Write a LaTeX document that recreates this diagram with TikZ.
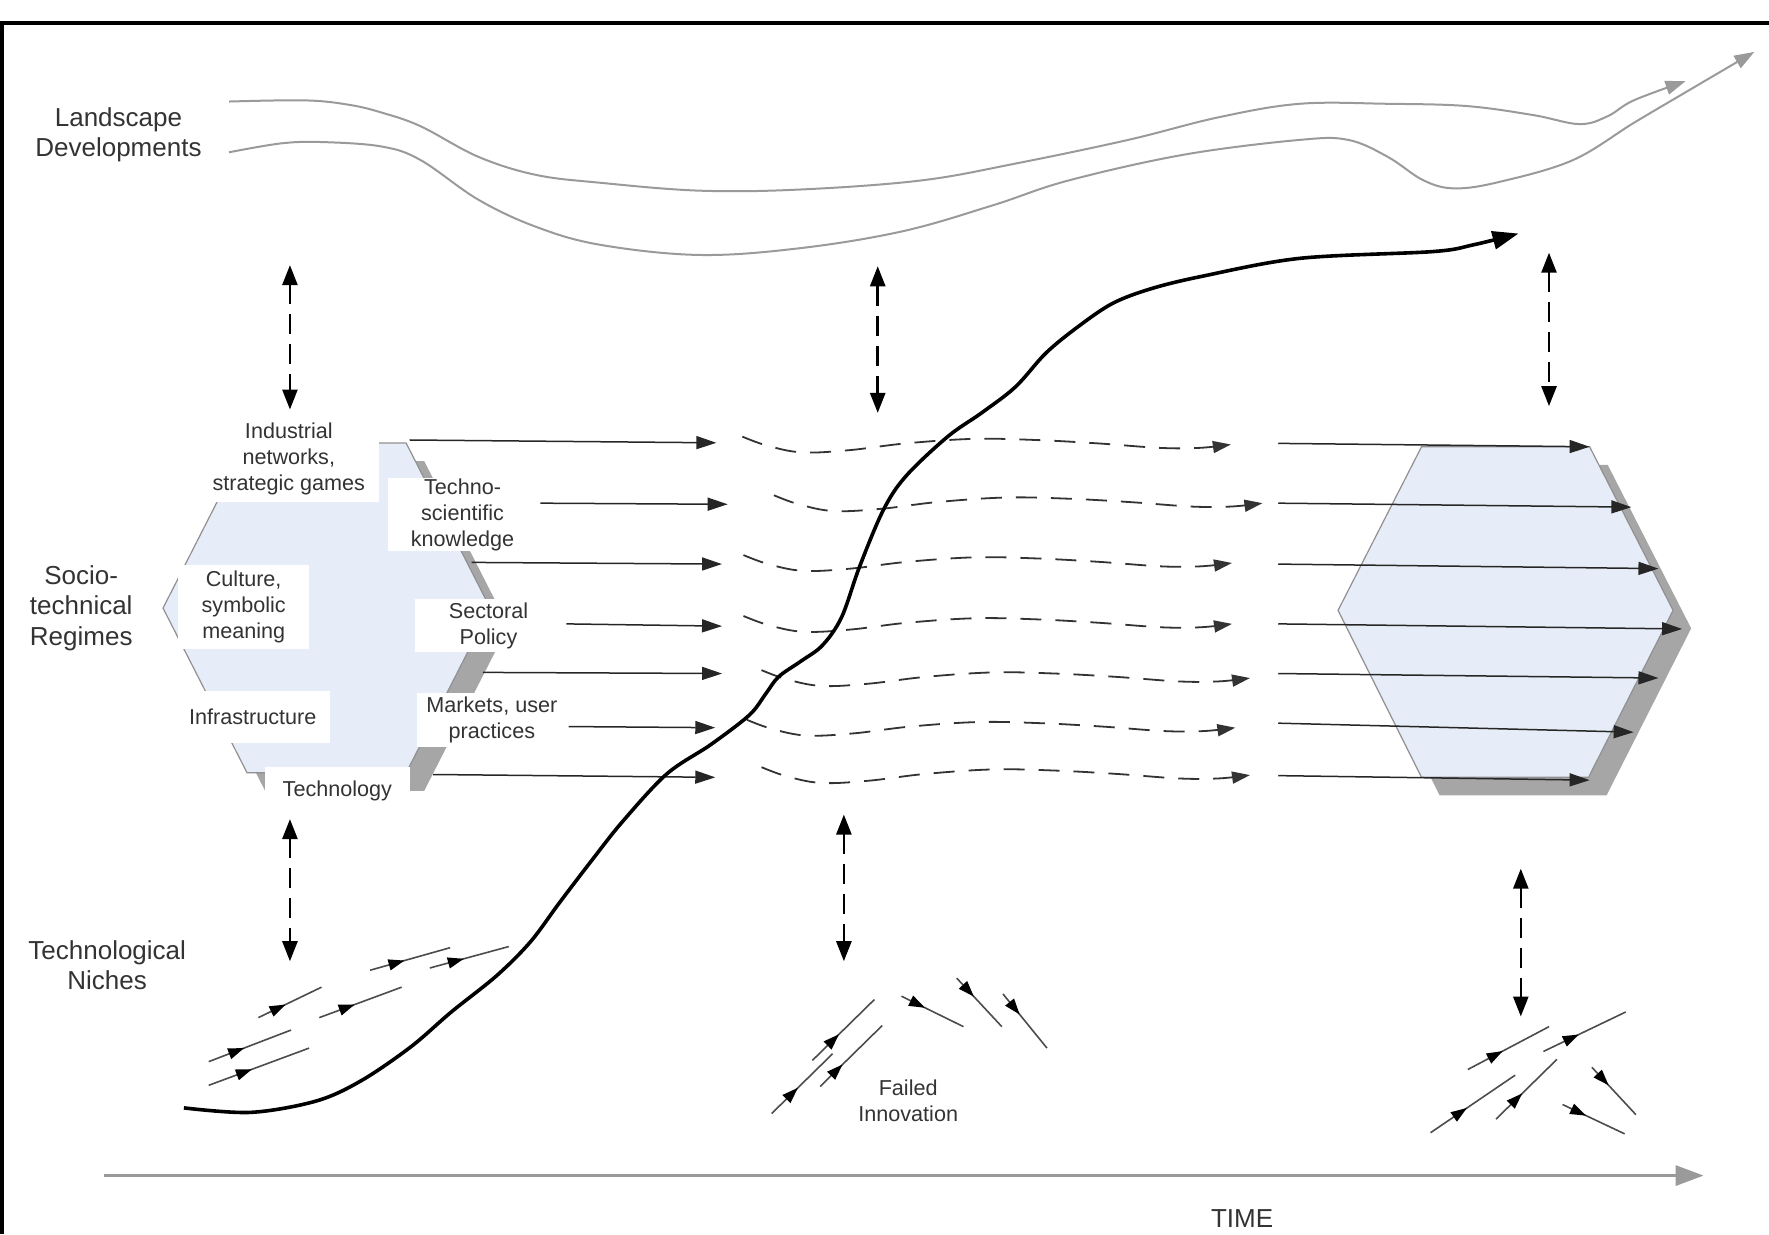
\documentclass[tikz,border=0pt]{standalone}
\usepackage{fontspec}
\setmainfont{Liberation Sans}
\usetikzlibrary{arrows.meta,decorations.markings}
\definecolor{hexfill}{HTML}{E6EDF8}
\definecolor{shadowgray}{HTML}{A6A6A6}
\definecolor{txt}{HTML}{333333}
\definecolor{land}{HTML}{9A9A9A}
\definecolor{hexline}{HTML}{909090}
\begin{document}
\begin{tikzpicture}[x=0.5641pt,y=-0.5641pt,
  big/.style={font=\fontsize{13}{15.2}\selectfont, text=txt, align=center, inner sep=0pt},
  small/.style={font=\fontsize{10.8}{13}\selectfont, text=txt, align=center, inner sep=0pt},
  lbox/.style={small, fill=white},
  landcurve/.style={draw=land, line width=1pt, -{Triangle[length=10pt,width=7pt,fill=land]}},
  vdash/.style={draw=black, line width=1.3pt, dash pattern=on 10pt off 5pt,
     {Triangle[length=10pt,width=7.5pt]}-{Triangle[length=10pt,width=7.5pt]}},
  rowarr/.style={draw=black!85, line width=0.75pt, -{Triangle[length=10pt,width=6.5pt]}},
  dashrow/.style={draw=black!80, line width=0.9pt, dash pattern=on 10.5pt off 7pt, -{Triangle[length=9pt,width=6pt]}},
  nich/.style={draw=black!70, line width=0.8pt, postaction={decorate, decoration={markings,
     mark=at position #1 with {\arrow[black]{Triangle[length=8pt,width=5.5pt]}}}}},
  nich/.default=0.43
]
\useasboundingbox (0,0) rectangle (1568,1094);

% frame
\coordinate (fbl) at (1.5,1094);
\coordinate (ftl) at (1.5,20.3);
\coordinate (ftr) at (1568,20.3);
\draw[line width=2.2pt] (fbl) -- (ftl) -- (ftr);

% landscape curves
\draw[landcurve] plot[smooth, tension=0.6] coordinates {(203,90) (271,89) (310,93) (339,100) (373,112) (424,139) (475,155) (532,162) (620,169) (709,168) (816,160) (900,145) (1000,124) (1080,104) (1152,92) (1230,92) (1300,94) (1359,102) (1400,110) (1425,103) (1448,89) (1494,72)};
\draw[landcurve] plot[smooth, tension=0.6] coordinates {(203,135) (250,127) (288,126) (339,130) (373,142) (424,177) (475,201) (532,217) (620,226) (709,220) (800,205) (880,182) (947,160) (1050,137) (1152,124) (1195,124) (1230,139) (1262,160) (1290,167) (1330,161) (1394,142) (1448,109) (1492,83) (1555,46)};

% vertical dashed double arrows
\foreach \n/\x/\ya/\yb in {v1/257/235/363, v2/778/236/366, v3/1373/224/360, v4/257/726/852, v5/748/722/852, v6/1348/770/901}{
  \coordinate (\n a) at (\x,\ya);
  \coordinate (\n b) at (\x,\yb);
  \draw[vdash] (\n a) -- (\n b);
}

% left hexagon (regime)
\fill[shadowgray, shift={(16,16)}] (144.5,539) -- (219,392.7) -- (360,392.7) -- (434.5,539) -- (360,685) -- (219,685) -- cycle;
\draw[hexline, line width=0.6pt, fill=hexfill] (144.5,539) -- (219,392.7) -- (360,392.7) -- (434.5,539) -- (360,685) -- (219,685) -- cycle;

% right hexagon
\fill[shadowgray, shift={(16,16)}] (1186,541) -- (1260,396) -- (1409,396) -- (1483,541) -- (1408,689) -- (1260,689) -- cycle;
\draw[hexline, line width=0.6pt, fill=hexfill] (1186,541) -- (1260,396) -- (1409,396) -- (1483,541) -- (1408,689) -- (1260,689) -- cycle;

% label boxes
\node[lbox, minimum width=90.5pt, minimum height=43.4pt] (ind) at (256,406.5) {Industrial\\networks,\\strategic games};
\node[lbox, minimum width=74.5pt, minimum height=34.4pt] (tsk) at (410,456) {Techno-\\scientific\\knowledge};
\node[lbox, minimum width=65.4pt, minimum height=41.7pt] (cul) at (216,538) {Culture,\\symbolic\\meaning};
\node[lbox, minimum width=73.9pt, minimum height=26.5pt] (sec) at (433,554.5) {Sectoral\\Policy};
\node[lbox, minimum width=77pt, minimum height=25.7pt] (inf) at (224,635.7) {Infrastructure};
\node[lbox, minimum width=74.8pt, minimum height=27pt] (mkt) at (436,638) {Markets, user\\practices};
\node[lbox, minimum width=72.2pt, minimum height=23.7pt] (tec) at (299,701) {Technology};

% solid row arrows (left)
\foreach \i/\xa/\ya/\xb/\yb in {1/363/390/635/392.5, 2/479/446/645/447, 3/418/498.5/640/500, 4/502/553/640/555, 5/428/596/640/597, 6/504/644/634/645, 7/384/686.5/634/689}{
  \coordinate (ls\i) at (\xa,\ya);
  \coordinate (le\i) at (\xb,\yb);
  \draw[rowarr] (ls\i) -- (le\i);
}
% solid row arrows (right)
\foreach \i/\ya/\xb/\yb in {1/393/1409/396, 2/446/1446/449.5, 3/500/1470/504, 4/553/1491/557.5, 5/597/1470/601, 6/641/1448/649, 7/687.5/1409/691.5}{
  \coordinate (rs\i) at (1133,\ya);
  \coordinate (re\i) at (\xb,\yb);
  \draw[rowarr] (rs\i) -- (re\i);
}
% dashed wavy rows
\foreach \i/\sx/\sy in {1/658/387, 2/686/439, 3/659/492, 4/659/546, 5/675/594, 6/662/638, 7/675/680}{
  \begin{scope}[shift={(\sx,\sy)}]
    \draw[dashrow] plot[smooth, tension=0.6] coordinates {(0,0) (22,8) (53,14) (95,12) (145,6) (205,2) (260,3) (315,6) (370,10) (405,10) (433,7)};
  \end{scope}
}

% trajectory curve
\draw[line width=1.8pt, -{Triangle[length=13pt,width=9pt]}] plot[smooth, tension=0.55] coordinates {(163,982) (222,986) (280,976) (320,958) (364,928) (400,897) (440,865) (470,835) (496,800) (525,762) (552,728) (591,686) (630,660) (664,634) (678,616) (690,600) (710,586) (729,572) (746,547) (762,502) (783,452) (803,422) (840,387) (870,366) (900,343) (927,313) (955,290) (986,269) (1020,256) (1065,245) (1152,229) (1270,223) (1306,217) (1346,207)};

% niche arrows (left)
\foreach \xa/\ya/\xb/\yb in {229/902/285/875, 283/902/356/875, 185/941/258/913, 185/962/274/929, 328/860/399/840, 381/858/451/839}{
  \draw[nich] (\xa,\ya) -- (\xb,\yb);
}
% niche arrows (middle)
\foreach \xa/\ya/\xb/\yb in {684/987/738/934, 720/940/775/886}{
  \draw[nich] (\xa,\ya) -- (\xb,\yb);
}
\draw[nich=0.36] (727,963) -- (782,909);
\foreach \xa/\ya/\xb/\yb in {799/883/854/910, 848/867/888/910, 889/881/928/929}{
  \draw[nich=0.38] (\xa,\ya) -- (\xb,\yb);
}
% niche arrows (right)
\foreach \xa/\ya/\xb/\yb in {1301/948/1373/910, 1368/932/1441/897, 1268/1004/1343/953, 1326/992/1380/939}{
  \draw[nich] (\xa,\ya) -- (\xb,\yb);
}
\foreach \xa/\ya/\xb/\yb in {1411/946/1450/988, 1385/979/1440/1005}{
  \draw[nich=0.38] (\xa,\ya) -- (\xb,\yb);
}

% time axis
\coordinate (t0) at (92,1042);
\coordinate (t1) at (1510,1042);
\draw[draw=land, line width=1.6pt, -{Triangle[length=14pt,width=10pt,fill=land]}] (t0) -- (t1);

% labels
\node[big] (land) at (105,119.5) {Landscape\\Developments};
\node[big] (reg) at (72,539) {Socio-\\technical\\Regimes};
\node[big] (nic) at (95,855.5) {Technological\\Niches};
\node[big] (time) at (1101,1080) {TIME};
\node[small] (fail) at (805,975.5) {Failed\\Innovation};
\end{tikzpicture}
\end{document}
